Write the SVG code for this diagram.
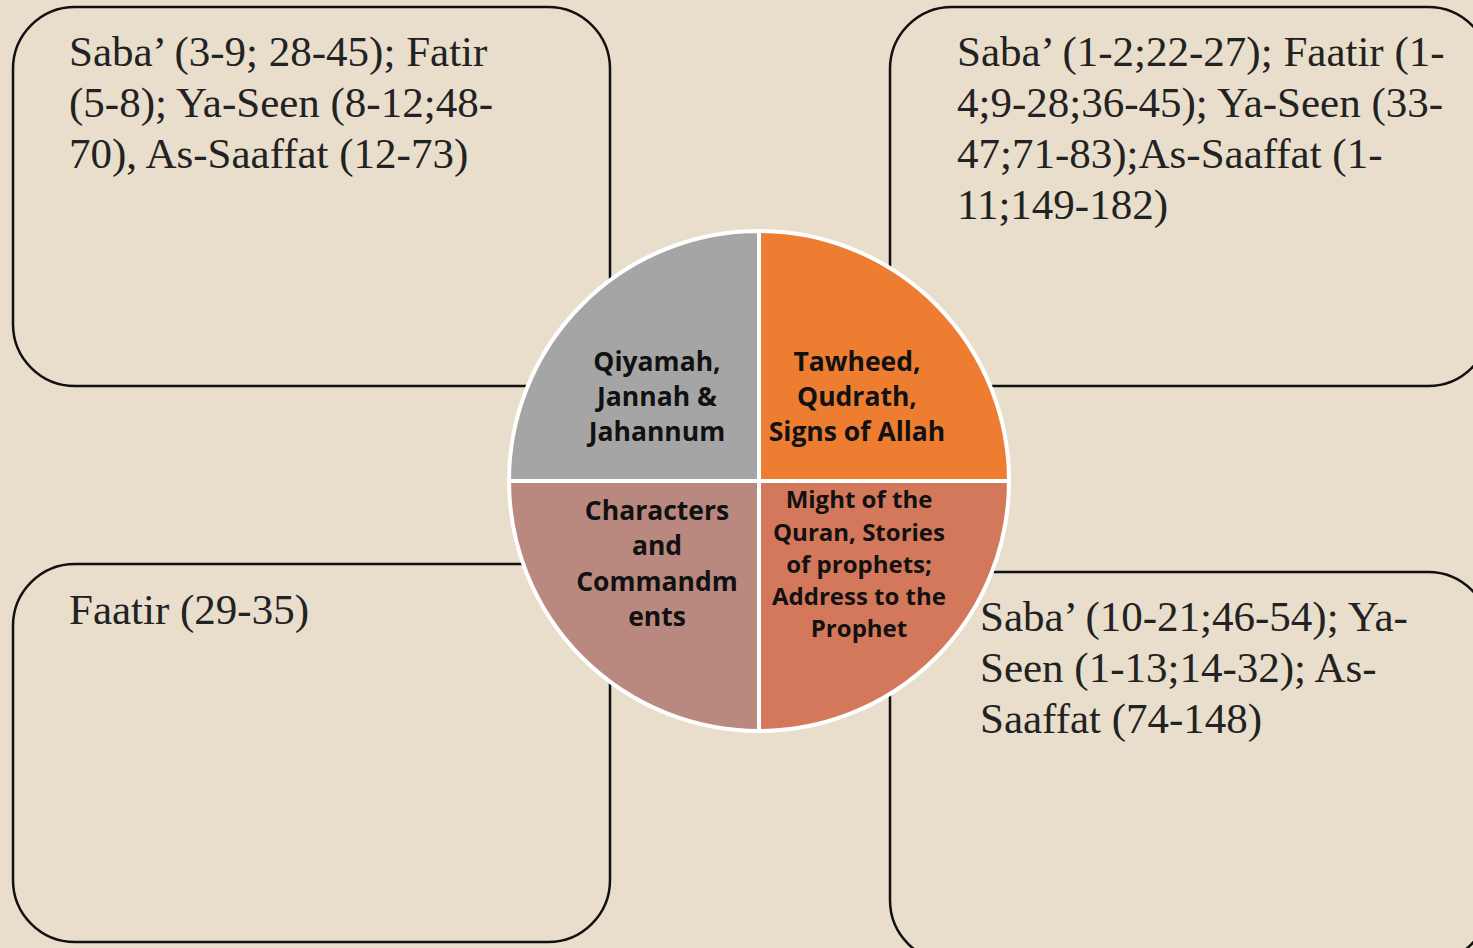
<svg xmlns="http://www.w3.org/2000/svg" width="1473" height="948" viewBox="0 0 1473 948">
<style>
.box{fill:none;stroke:#111;stroke-width:2.5}
.bt{font-family:"Liberation Serif","DejaVu Serif",serif;font-size:43px;fill:#222}
.ct{font-family:"Open Sans",Lato,sans-serif;font-weight:bold;font-size:26.5px;fill:#111;text-anchor:middle}
.ct2{font-family:"Open Sans",Lato,sans-serif;font-weight:bold;font-size:24px;fill:#111;text-anchor:middle}
.q{stroke:#fff;stroke-width:4}
</style>
<rect x="0" y="0" width="1473" height="948" fill="#e8decb"/>
<g id="box-tl">
<rect class="box" x="13" y="7" width="597" height="379" rx="62"/>
<text class="bt"><tspan x="69" y="66">Saba’ (3-9; 28-45); Fatir</tspan><tspan x="69" y="117">(5-8); Ya-Seen (8-12;48-</tspan><tspan x="69" y="168">70), As-Saaffat (12-73)</tspan></text>
</g>
<g id="box-tr">
<rect class="box" x="890" y="7" width="600" height="379" rx="62"/>
<text class="bt"><tspan x="957" y="66">Saba’ (1-2;22-27); Faatir (1-</tspan><tspan x="957" y="117">4;9-28;36-45); Ya-Seen (33-</tspan><tspan x="957" y="168">47;71-83);As-Saaffat (1-</tspan><tspan x="957" y="219">11;149-182)</tspan></text>
</g>
<g id="box-bl">
<rect class="box" x="13" y="564" width="597" height="378" rx="62"/>
<text class="bt" x="69" y="624">Faatir (29-35)</text>
</g>
<g id="box-br">
<rect class="box" x="890" y="572" width="600" height="390" rx="62"/>
<text class="bt"><tspan x="980" y="631">Saba’ (10-21;46-54); Ya-</tspan><tspan x="980" y="682">Seen (1-13;14-32); As-</tspan><tspan x="980" y="733">Saaffat (74-148)</tspan></text>
</g>
<g id="connectors"></g>
<g id="pie">
<g id="q-tl"><path class="q" fill="#a5a5a5" d="M759 481 L509 481 A250 250 0 0 1 759 231 Z"/>
<text class="ct"><tspan x="657" y="371">Qiyamah,</tspan><tspan x="657" y="406">Jannah &amp;</tspan><tspan x="657" y="441">Jahannum</tspan></text></g>
<g id="q-tr"><path class="q" fill="#ed7d31" d="M759 481 L759 231 A250 250 0 0 1 1009 481 Z"/>
<text class="ct"><tspan x="857" y="371">Tawheed,</tspan><tspan x="857" y="406">Qudrath,</tspan><tspan x="857" y="441">Signs of Allah</tspan></text></g>
<g id="q-bl"><path class="q" fill="#b9887f" d="M759 481 L759 731 A250 250 0 0 1 509 481 Z"/>
<text class="ct"><tspan x="657" y="520">Characters</tspan><tspan x="657" y="555">and</tspan><tspan x="657" y="591">Commandm</tspan><tspan x="657" y="626">ents</tspan></text></g>
<g id="q-br"><path class="q" fill="#d4785b" d="M759 481 L1009 481 A250 250 0 0 1 759 731 Z"/>
<text class="ct2"><tspan x="859" y="508">Might of the</tspan><tspan x="859" y="541">Quran, Stories</tspan><tspan x="859" y="573">of prophets;</tspan><tspan x="859" y="605">Address to the</tspan><tspan x="859" y="637">Prophet</tspan></text></g>
</g>
</svg>
